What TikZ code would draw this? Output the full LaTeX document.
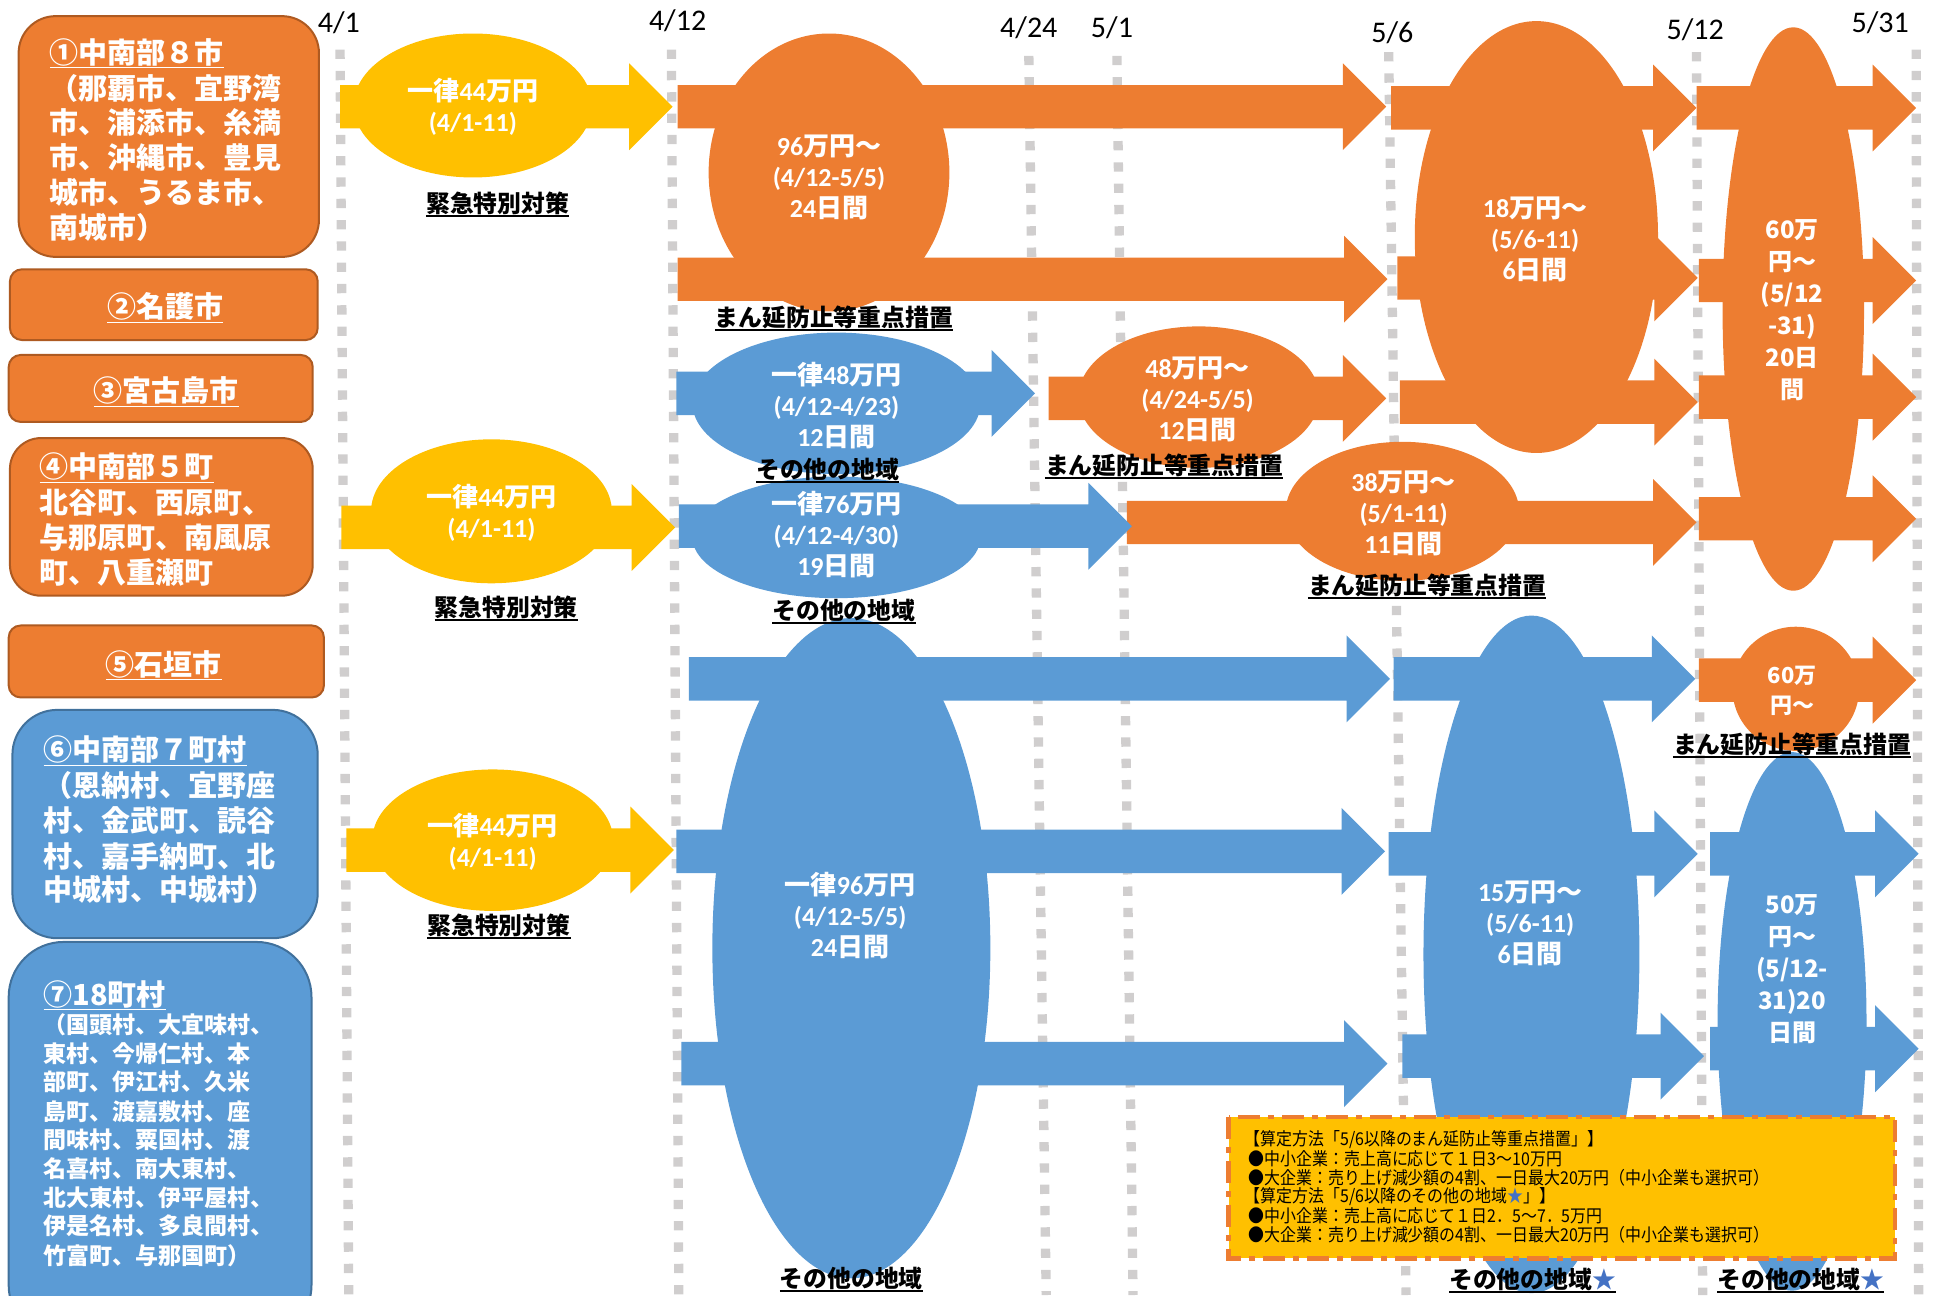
\documentclass[tikz,border=0pt]{standalone}
\usepackage{fontspec}
\setmainfont{Carlito}
\newfontfamily\jp{Noto Sans CJK JP}
\newfontfamily\jpn{Noto Sans CJK JP}[FakeStretch=0.9]
\newcommand\J[1]{{\jp\bfseries #1}}
\definecolor{cor}{HTML}{ED7D31}
\definecolor{cbl}{HTML}{5B9BD5}
\definecolor{cye}{HTML}{FFC000}
\definecolor{cgr}{HTML}{D0CECE}
\definecolor{corb}{HTML}{AE5A21}
\definecolor{cblb}{HTML}{41719C}
\definecolor{cstar}{HTML}{4472C4}
\newcommand\blkarrow[4]{\fill[#1] (#2,{#4-17.5}) -- ({#3-35},{#4-17.5}) -- ({#3-35},{#4-35}) -- (#3,#4) -- ({#3-35},{#4+35}) -- ({#3-35},{#4+17.5}) -- (#2,{#4+17.5}) -- cycle;}
\newcommand\ullab[3]{\node[labs] (#1) at (#2) {#3};
  \draw[line width=2pt] ([yshift=-3.5pt]#1.base west) -- ([yshift=-3.5pt]#1.base east);}
\tikzset{
  dotl/.style={draw=cgr, line width=9.3pt, dash pattern=on 9.3pt off 12pt},
  obox/.style={fill=cor, draw=corb, line width=2pt},
  bbox/.style={fill=cbl, draw=cblb, line width=2pt},
  btxt/.style={text=white, font=\jp\bfseries\fontsize{29}{35}\selectfont, inner sep=0, anchor=west, text height=24.4pt, text depth=2.3pt},
  btxs/.style={text=white, font=\jp\bfseries\fontsize{23}{29}\selectfont, inner sep=0, anchor=west, text height=19.3pt, text depth=1.84pt},
  bctr/.style={text=white, font=\jp\bfseries\fontsize{29}{35}\selectfont, inner sep=0, text height=24.4pt, text depth=2.3pt},
  etxt/.style={text=white, font=\bfseries\fontsize{26}{31}\selectfont, align=center, inner sep=0},
  etall/.style={text=white, font=\jp\bfseries\fontsize{24}{32}\selectfont, align=center, inner sep=0},
  esml/.style={text=white, font=\jp\bfseries\fontsize{22}{30}\selectfont, align=center, inner sep=0},
  labs/.style={font=\jp\bfseries\fontsize{23.8}{28}\selectfont, inner sep=0},
  datel/.style={font=\fontsize{30}{36}\selectfont, inner sep=0},
  notet/.style={font=\jpn\fontsize{17.7}{19}\selectfont, inner sep=0, anchor=west},
}
\begin{document}
\begin{tikzpicture}[x=1.241pt, y=-1.241pt]
\useasboundingbox (0,0) rectangle (1560,1043.5);
\clip (0,0) rectangle (1560,1043.5);
% dotted date lines
\draw[dotl] (274,40) -- (281,1043.5);
\draw[dotl] (541,40) -- (547,1043.5);
\draw[dotl] (829,45) -- (843,1043.5);
\draw[dotl] (900,45) -- (913,1043.5);
\draw[dotl] (1119,42) -- (1133,1043.5);
\draw[dotl] (1367,42) -- (1372,1043.5);
\draw[dotl] (1544,40) -- (1546,1043.5);
% date labels
\node[datel] (d1) at (273,18) {4/1};
\node[datel] (d2) at (546,17) {4/12};
\node[datel] (d3) at (829,22) {4/24};
\node[datel] (d4) at (896,22) {5/1};
\node[datel] (d5) at (1122,26) {5/6};
\node[datel] (d6) at (1366,24) {5/12};
\node[datel] (d7) at (1515,18) {5/31};
% left boxes
\draw[obox, rounded corners=37pt] (15,13) rectangle (257,207);
\node[btxt] (b1a) at (40,42) {\underline{①中南部８市}};
\node[btxt] (b1b) at (40,71) {（那覇市、宜野湾};
\node[btxt] (b1c) at (40,99) {市、浦添市、糸満};
\node[btxt] (b1d) at (40,127) {市、沖縄市、豊見};
\node[btxt] (b1e) at (40,155) {城市、うるま市、};
\node[btxt] (b1f) at (40,183) {南城市）};
\draw[obox, rounded corners=12pt] (8,217) rectangle (256,274);
\node[bctr] (b2) at (133,247) {\underline{②名護市}};
\draw[obox, rounded corners=12pt] (7,286) rectangle (252,340);
\node[bctr] (b3) at (134,315) {\underline{③宮古島市}};
\draw[obox, rounded corners=31pt] (8,353) rectangle (252,480);
\node[btxt] (b4a) at (32,376) {\underline{④中南部５町}};
\node[btxt] (b4b) at (32,405) {北谷町、西原町、};
\node[btxt] (b4c) at (32,433) {与那原町、南風原};
\node[btxt] (b4d) at (32,461) {町、八重瀬町};
\draw[obox, rounded corners=12pt] (7,504) rectangle (261,562);
\node[bctr] (b5) at (132,535) {\underline{⑤石垣市}};
\draw[bbox, rounded corners=45pt] (10,572) rectangle (256,756);
\node[btxt] (b6a) at (35,604) {\underline{⑥中南部７町村}};
\node[btxt] (b6b) at (35,633) {（恩納村、宜野座};
\node[btxt] (b6c) at (35,661) {村、金武町、読谷};
\node[btxt] (b6d) at (35,690) {村、嘉手納町、北};
\node[btxt] (b6e) at (35,717) {中城村、中城村）};
\draw[bbox, rounded corners=55pt] (7,759) rectangle (251,1080);
\node[btxt] (b7a) at (35,801) {\underline{⑦18町村}};
\node[btxs] (b7b) at (35,826) {（国頭村、大宜味村、};
\node[btxs] (b7c) at (35,849) {東村、今帰仁村、本};
\node[btxs] (b7d) at (35,872) {部町、伊江村、久米};
\node[btxs] (b7e) at (35,895.5) {島町、渡嘉敷村、座};
\node[btxs] (b7f) at (35,918.5) {間味村、粟国村、渡};
\node[btxs] (b7g) at (35,942) {名喜村、南大東村、};
\node[btxs] (b7h) at (35,965) {北大東村、伊平屋村、};
\node[btxs] (b7i) at (35,988) {伊是名村、多良間村、};
\node[btxs] (b7j) at (35,1012) {竹富町、与那国町）};
% yellow
\blkarrow{cye}{274}{542}{86}
\fill[cye] (381,85) ellipse (96 and 58);
\blkarrow{cye}{275}{544}{425}
\fill[cye] (396,412) ellipse (97 and 58);
\blkarrow{cye}{279}{543}{685}
\fill[cye] (397,677) ellipse (97 and 57);
% orange
\blkarrow{cor}{546}{1117}{86}
\blkarrow{cor}{546}{1118}{225}
\fill[cor] (668,139) ellipse (97 and 112);
\blkarrow{cor}{845}{1117}{321}
\fill[cor] (966,320) ellipse (97 and 57);
\blkarrow{cor}{908}{1367}{421}
\fill[cor] (1130,412) ellipse (94 and 56);
\blkarrow{cor}{1121}{1367}{87}
\blkarrow{cor}{1126}{1368}{224}
\blkarrow{cor}{1128}{1368}{324}
\fill[cor] (1238,191) ellipse (98 and 174);
\blkarrow{cor}{1367}{1544}{87}
\blkarrow{cor}{1369}{1544}{226}
\blkarrow{cor}{1369}{1544}{320}
\blkarrow{cor}{1369}{1544}{418}
\fill[cor] (1445,249) ellipse (57 and 227);
\blkarrow{cor}{1369}{1544}{548}
\fill[cor] (1447,555) ellipse (51 and 50);
% blue
\blkarrow{cbl}{545}{834}{317}
\fill[cbl] (674,325) ellipse (116 and 57);
\blkarrow{cbl}{547}{912}{424}
\fill[cbl] (674,433) ellipse (116 and 49);
\blkarrow{cbl}{555}{1120}{547}
\blkarrow{cbl}{545}{1116}{686}
\blkarrow{cbl}{549}{1118}{857}
\fill[cbl] (686,764) ellipse (112 and 266);
\blkarrow{cbl}{1123}{1366}{547}
\blkarrow{cbl}{1119}{1368}{688}
\blkarrow{cbl}{1130}{1373}{851}
\fill[cbl] (1234,769) ellipse (87 and 273);
\blkarrow{cbl}{1378}{1546}{688}
\blkarrow{cbl}{1378}{1546}{845}
\fill[cbl] (1444,823) ellipse (60 and 217);
% ellipse texts
\node[etxt] (t1) at (381,86) {\J{一律}44\J{万円}\\(4/1-11)};
\node[etxt] (t4) at (396,413) {\J{一律}44\J{万円}\\(4/1-11)};
\node[etxt] (t6) at (397,678) {\J{一律}44\J{万円}\\(4/1-11)};
\node[etxt] (to96) at (668,143) {96\J{万円～}\\(4/12-5/5)\\24\J{日間}};
\node[etxt] (to48) at (965,322) {48\J{万円～}\\(4/24-5/5)\\12\J{日間}};
\node[etxt] (to38) at (1131,414) {38\J{万円～}\\(5/1-11)\\11\J{日間}};
\node[etxt] (to18) at (1237,193) {18\J{万円～}\\(5/6-11)\\6\J{日間}};
\node[etall] (to60) at (1444,250) {60万\\円～\\(5/12\\-31)\\20日\\間};
\node[esml] (to60s) at (1444,557) {60万\\円～};
\node[etxt] (tb48) at (674,327) {\J{一律}48\J{万円}\\(4/12-4/23)\\12\J{日間}};
\node[etxt] (tb76) at (674,431) {\J{一律}76\J{万円}\\(4/12-4/30)\\19\J{日間}};
\node[etxt] (tb96) at (685,738) {\J{一律}96\J{万円}\\(4/12-5/5)\\24\J{日間}};
\node[etxt] (tb15) at (1233,744) {15\J{万円～}\\(5/6-11)\\6\J{日間}};
\node[etall] (tb50) at (1444,781) {50万\\円～\\(5/12-\\31)20\\日間};
% labels
\ullab{l1}{401,164}{緊急特別対策}
\ullab{l4}{408,489}{緊急特別対策}
\ullab{l6}{402,746}{緊急特別対策}
\ullab{m1}{672,256}{まん延防止等重点措置}
\ullab{m2}{938,375}{まん延防止等重点措置}
\ullab{m3}{1150,472}{まん延防止等重点措置}
\ullab{m4}{1444,600}{まん延防止等重点措置}
\ullab{s1}{667,378}{その他の地域}
\ullab{s2}{680,492}{その他の地域}
\ullab{s3}{686,1030}{その他の地域}
\ullab{s4}{1235,1031}{その他の地域\textcolor{cstar}{★}}
\ullab{s5}{1451,1031}{その他の地域\textcolor{cstar}{★}}
% note box
\draw[fill=cye, draw=cor, line width=4.3pt, dash pattern=on 22pt off 8pt on 6pt off 8pt] (990,900) rectangle (1527,1014);
\node[notet, xshift=-0.4em] (n1) at (1006,918) {【算定方法「5/6以降のまん延防止等重点措置」】};
\node[notet] (n2) at (1006,933.4) {●中小企業：売上高に応じて１日3～10万円};
\node[notet] (n3) at (1006,948.8) {●大企業：売り上げ減少額の4割、一日最大20万円（中小企業も選択可）};
\node[notet, xshift=-0.4em] (n4) at (1006,964.2) {【算定方法「5/6以降のその他の地域\textcolor{cstar}{★}」】};
\node[notet] (n5) at (1006,979.6) {●中小企業：売上高に応じて１日2．5～7．5万円};
\node[notet] (n6) at (1006,995) {●大企業：売り上げ減少額の4割、一日最大20万円（中小企業も選択可）};
\end{tikzpicture}
\end{document}
